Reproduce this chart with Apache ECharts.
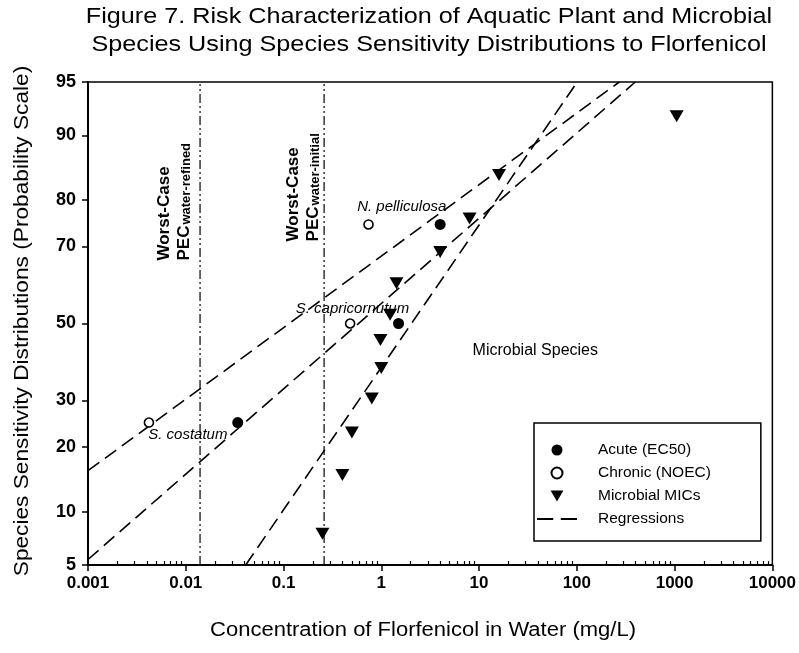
<!DOCTYPE html>
<html><head><meta charset="utf-8">
<script src="https://cdn.jsdelivr.net/npm/echarts@6/dist/echarts.min.js"></script>
<style>html,body{margin:0;padding:0;background:#fff}#c{width:799px;height:653px}</style>
</head><body><div id="c"></div>
<script>
// ---------- data (concentration mg/L, cumulative percent) ----------
const acuteX = [0.034, 1.5, 4.0];
const acuteP = [25, 50, 75];
const chronicX = [0.0042, 0.48, 0.74];
const chronicP = [25, 50, 75];
const micX = [0.25, 0.4, 0.5, 0.8, 1.0, 0.98, 1.23, 1.43, 4.0, 8.0, 16, 1050];
const micP = [7.6, 15.1, 22.9, 30.5, 38.1, 45.5, 52.4, 60.8, 68.7, 76.3, 84.4, 92.1];
const regChronicX = [0.001, 272];
const regChronicP = [15.8, 95];
const regAcuteX = [0.001, 396];
const regAcuteP = [5.4, 95];
const regMicX = [0.041, 101];
const regMicP = [5, 95];
const pecX = [0.014, 0.26];
const yTickP = [5, 10, 20, 30, 50, 70, 80, 90, 95];
const xTickVals = [0.001, 0.01, 0.1, 1, 10, 100, 1000, 10000];
const xTickLabels = ['0.001', '0.01', '0.1', '1', '10', '100', '1000', '10000'];
const noteText = ['N. pelliculosa', 'S. capricornutum', 'S. costatum'];
const noteX = [1.62, 0.507, 0.0105];
const noteP = [78.7, 54.1, 22.4];
const regionText = ['Microbial Species'];
const regionX = [37.6];
const regionP = [42.8];
const pecSub = ['water-refined', 'water-initial'];
const pecLabelX = [0.0074, 0.154];
const pecLabelP = [66.6, 71.2];

// ---------- probability (probit) transform ----------
function probit(pct) {
  const p = pct / 100;
  const a = [-3.969683028665376e+01, 2.209460984245205e+02, -2.759285104469687e+02, 1.383577518672690e+02, -3.066479806614716e+01, 2.506628277459239e+00];
  const b = [-5.447609879822406e+01, 1.615858368580409e+02, -1.556989798598866e+02, 6.680131188771972e+01, -1.328068155022803e+01];
  const c = [-7.784894002430293e-03, -3.223964580411365e-01, -2.400758277161838e+00, -2.549732539343734e+00, 4.374664141464968e+00, 2.938163982698783e+00];
  const d = [7.784695709041462e-03, 3.224671290700398e-01, 2.445134137142996e+00, 3.754408661907416e+00];
  const pl = 0.02425, ph = 1 - pl;
  let q, r;
  if (p < pl) { q = Math.sqrt(-2 * Math.log(p)); return (((((c[0]*q+c[1])*q+c[2])*q+c[3])*q+c[4])*q+c[5]) / ((((d[0]*q+d[1])*q+d[2])*q+d[3])*q+1); }
  if (p <= ph) { q = p - 0.5; r = q*q; return (((((a[0]*r+a[1])*r+a[2])*r+a[3])*r+a[4])*r+a[5])*q / (((((b[0]*r+b[1])*r+b[2])*r+b[3])*r+b[4])*r+1); }
  q = Math.sqrt(-2 * Math.log(1 - p));
  return -(((((c[0]*q+c[1])*q+c[2])*q+c[3])*q+c[4])*q+c[5]) / ((((d[0]*q+d[1])*q+d[2])*q+d[3])*q+1);
}
const pts = (xs, ps) => xs.map((x, i) => [x, probit(ps[i])]);
const yMin = probit(yTickP[0]), yMax = probit(yTickP[yTickP.length - 1]);
const yTickZ = yTickP.map(probit);
const minorTicks = [];
for (let e = -3; e < 4; e++) for (let m = 2; m <= 9; m++) minorTicks.push(m * Math.pow(10, e));

const FONT = 'Liberation Sans, Arial, sans-serif';
const chart = echarts.init(document.getElementById('c'), null, {renderer: 'canvas'});
const regLine = {color: '#000', width: 1.6, type: [14, 7]};
const pecLine = {color: '#000', width: 1.2, type: [9, 3, 2, 3, 2, 3]};

const option = {
  animation: false,
  backgroundColor: '#fff',
  grid: {left: 88, right: 26, top: 82, bottom: 88, show: true, borderColor: '#000', borderWidth: 1.5, backgroundColor: 'transparent'},
  xAxis: [{
    type: 'log', logBase: 10, min: xTickVals[0], max: xTickVals[xTickVals.length - 1],
    position: 'bottom',
    axisLine: {show: true, onZero: false, lineStyle: {color: '#000', width: 2}},
    axisTick: {show: true, inside: false, length: 6, lineStyle: {color: '#000', width: 1.5}, customValues: xTickVals},
    axisLabel: {color: '#000', fontFamily: FONT, fontSize: 17, fontWeight: 'bold', margin: 10, customValues: xTickVals,
      formatter: v => xTickLabels[Math.round(Math.log10(v)) + 3]},
    splitLine: {show: false}
  }, {
    type: 'log', logBase: 10, min: xTickVals[0], max: xTickVals[xTickVals.length - 1],
    position: 'bottom',
    axisLine: {show: false, onZero: false},
    axisTick: {show: true, inside: true, length: 4, lineStyle: {color: '#000', width: 1.2}, customValues: minorTicks},
    axisLabel: {show: false},
    splitLine: {show: false}
  }],
  yAxis: {
    type: 'value', min: yMin, max: yMax,
    axisLine: {show: true, onZero: false, lineStyle: {color: '#000', width: 2}},
    axisTick: {show: true, inside: false, length: 6, lineStyle: {color: '#000', width: 1.5}, customValues: yTickZ},
    axisLabel: {color: '#000', fontFamily: FONT, fontSize: 18, fontWeight: 'bold', margin: 12, customValues: yTickZ,
      formatter: v => { let best = 0; yTickZ.forEach((z, i) => { if (Math.abs(z - v) < Math.abs(yTickZ[best] - v)) best = i; }); return String(yTickP[best]); }},
    splitLine: {show: false}
  },
  legend: {
    data: [
      {name: 'Acute (EC50)', icon: 'circle'},
      {name: 'Chronic (NOEC)', icon: 'circle'},
      {name: 'Microbial MICs', icon: 'path://M0,0L14,0L7,12Z'},
      {name: 'Regressions', icon: 'path://M0,0h15v2h-15zM22,0h15v2h-15z'}
    ],
    orient: 'vertical', left: 534, top: 423,
    itemWidth: 40, itemHeight: 11, itemGap: 7,
    symbolRotate: 0, symbolKeepAspect: true,
    padding: [19, 50, 14, 3],
    borderColor: '#000', borderWidth: 1.5, backgroundColor: '#fff',
    selectedMode: false,
    textStyle: {color: '#000', fontFamily: FONT, fontSize: 15.5, padding: [0, 0, 0, 16]}
  },
  series: [
    {name: 'Regressions', type: 'line', data: pts(regChronicX, regChronicP), symbol: 'none', itemStyle: {color: '#000'}, lineStyle: regLine, z: 2, silent: true},
    {name: 'Regressions', type: 'line', data: pts(regAcuteX, regAcuteP), symbol: 'none', itemStyle: {color: '#000'}, lineStyle: regLine, z: 2, silent: true},
    {name: 'Regressions', type: 'line', data: pts(regMicX, regMicP), symbol: 'none', itemStyle: {color: '#000'}, lineStyle: regLine, z: 2, silent: true},
    {name: 'PEC refined', type: 'line', data: [[pecX[0], yMin], [pecX[0], yMax]], symbol: 'none', itemStyle: {color: '#000'}, lineStyle: pecLine, z: 2, silent: true},
    {name: 'PEC initial', type: 'line', data: [[pecX[1], yMin], [pecX[1], yMax]], symbol: 'none', itemStyle: {color: '#000'}, lineStyle: pecLine, z: 2, silent: true},
    {name: 'Acute (EC50)', type: 'scatter', data: pts(acuteX, acuteP), symbol: 'circle', symbolSize: 11,
      itemStyle: {color: '#000', opacity: 1}, z: 5},
    {name: 'Chronic (NOEC)', type: 'scatter', data: pts(chronicX, chronicP), symbol: 'circle', symbolSize: 9,
      itemStyle: {color: '#fff', borderColor: '#000', borderWidth: 1.6, opacity: 1}, z: 5},
    {name: 'Microbial MICs', type: 'scatter', data: pts(micX, micP), symbol: 'triangle', symbolRotate: 180, symbolSize: [14, 12],
      itemStyle: {color: '#000', opacity: 1}, z: 5}
  ]
};
chart.setOption(option);

const toPx = (x, p) => chart.convertToPixel({xAxisIndex: 0, yAxisIndex: 0}, [x, probit(p)]);
const graphics = [];
graphics.push({type: 'text', x: 429, y: 3, scaleX: 1.12, style: {
  text: 'Figure 7. Risk Characterization of Aquatic Plant and Microbial\nSpecies Using Species Sensitivity Distributions to Florfenicol',
  font: '22.5px ' + FONT, fill: '#000', align: 'center', verticalAlign: 'top', lineHeight: 28}});
graphics.push({type: 'text', x: 423, y: 630, scaleX: 1.1, style: {
  text: 'Concentration of Florfenicol in Water (mg/L)',
  font: '20px ' + FONT, fill: '#000', align: 'center', verticalAlign: 'middle'}});
graphics.push({type: 'text', x: 22, y: 321, rotation: Math.PI / 2, scaleX: 1.08, style: {
  text: 'Species Sensitivity Distributions (Probability Scale)',
  font: '21px ' + FONT, fill: '#000', align: 'center', verticalAlign: 'middle'}});
noteText.forEach((t, i) => {
  const [x, y] = toPx(noteX[i], noteP[i]);
  graphics.push({type: 'text', x, y, z: 10, style: {text: t, font: 'italic 15px ' + FONT, fill: '#000', align: 'center', verticalAlign: 'middle'}});
});
regionText.forEach((t, i) => {
  const [x, y] = toPx(regionX[i], regionP[i]);
  graphics.push({type: 'text', x, y, z: 10, style: {text: t, font: '16px ' + FONT, fill: '#000', align: 'center', verticalAlign: 'middle'}});
});
pecSub.forEach((s, i) => {
  const [x, y] = toPx(pecLabelX[i], pecLabelP[i]);
  graphics.push({type: 'text', x, y, rotation: Math.PI / 2, z: 10, style: {
    text: '{b|Worst-Case}\n{b|PEC}{s|' + s + '}',
    align: 'left', verticalAlign: 'middle', fill: '#000',
    rich: {
      b: {fontFamily: FONT, fontSize: 17, fontWeight: 'bold', lineHeight: 20, fill: '#000', verticalAlign: 'bottom'},
      s: {fontFamily: FONT, fontSize: 13, fontWeight: 'bold', lineHeight: 20, fill: '#000', verticalAlign: 'bottom', padding: [0, 0, 0, 1]}
    }}});
});
chart.setOption({graphic: graphics});
</script>
</body></html>
